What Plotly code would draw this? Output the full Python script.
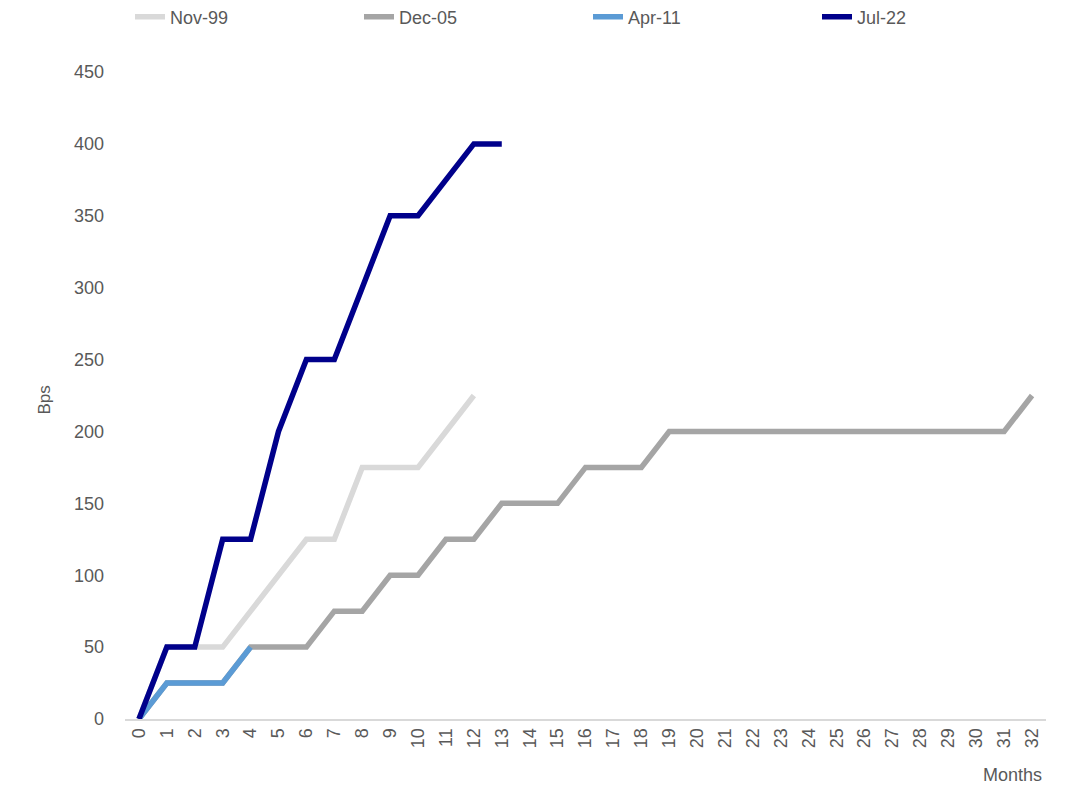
import plotly.graph_objects as go

months = list(range(33))

nov99 = [0, 50, 50, 50, 75, 100, 125, 125, 175, 175, 175, 200, 225]
dec05 = [0, 25, 25, 25, 50, 50, 50, 75, 75, 100, 100, 125, 125, 150, 150, 150,
         175, 175, 175, 200, 200, 200, 200, 200, 200, 200, 200, 200, 200, 200,
         200, 200, 225]
apr11 = [0, 25, 25, 25, 50]
jul22 = [0, 50, 50, 125, 125, 200, 250, 250, 300, 350, 350, 375, 400, 400]

series = [
    ("Nov-99", nov99, "#D9D9D9"),
    ("Dec-05", dec05, "#A5A5A5"),
    ("Apr-11", apr11, "#5B9BD5"),
    ("Jul-22", jul22, "#00008B"),
]

fig = go.Figure()
for name, vals, color in series:
    fig.add_trace(go.Scatter(
        x=months[:len(vals)], y=vals, mode="lines", name=name,
        line=dict(color=color, width=5.5),
    ))

font = "Liberation Sans, Arial"
L, R, T, B = 125, 23, 72, 69
W, H = 1069, 788
w_plot = W - L - R
h_plot = H - T - B

fig.update_layout(
    width=W, height=H,
    margin=dict(l=L, r=R, t=T, b=B, autoexpand=False),
    paper_bgcolor="white", plot_bgcolor="white",
    font=dict(family=font, size=17, color="#595959"),
    showlegend=True,
    legend=dict(
        orientation="h", x=(130 - L) / w_plot, y=1 + (T - 17) / h_plot,
        xanchor="left", yanchor="middle",
        entrywidth=184, entrywidthmode="pixels",
        font=dict(size=18, color="#595959"),
        tracegroupgap=0,
    ),
    xaxis=dict(
        range=[-0.5, 32.5], tickmode="array", tickvals=months,
        ticktext=[str(m) for m in months], tickangle=-90,
        showgrid=False, zeroline=False,
        showline=True, linecolor="#D9D9D9", linewidth=2,
        ticks="", tickfont=dict(size=18, color="#595959"),
    ),
    yaxis=dict(
        range=[0, 450], tickvals=[0, 50, 100, 150, 200, 250, 300, 350, 400, 450],
        showgrid=False, zeroline=False, showline=False, ticks="",
        tickfont=dict(size=18, color="#595959"), ticklabelstandoff=20,
    ),
    annotations=[
        dict(text="Bps", x=(32 - L) / w_plot, y=(H - B - 400) / h_plot,
             xref="paper", yref="paper", showarrow=False,
             textangle=-90, font=dict(size=17, color="#595959")),
        dict(text="Months", x=(1044 - L) / w_plot, y=(H - B - 775) / h_plot,
             xref="paper", yref="paper", showarrow=False,
             font=dict(size=18, color="#595959"),
             xanchor="right", yanchor="middle"),
    ],
)

fig.write_html("out.html")
